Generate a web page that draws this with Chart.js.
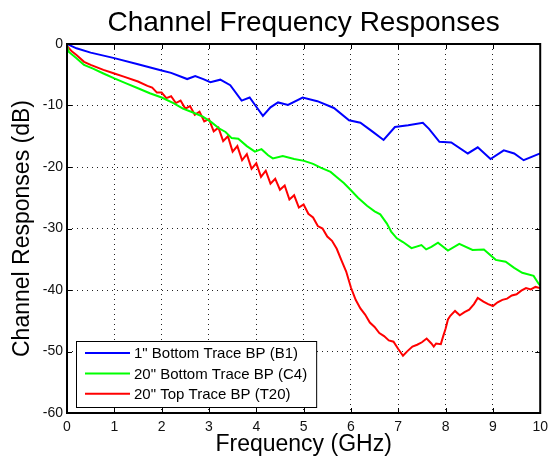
<!DOCTYPE html>
<html>
<head>
<meta charset="utf-8">
<script src="https://cdn.jsdelivr.net/npm/chart.js@4.4.1/dist/chart.umd.min.js"></script>
<style>
  html, body { margin: 0; padding: 0; background: #fff; }
  #wrap { width: 554px; height: 461px; }
</style>
</head>
<body>
<div id="wrap"><canvas id="respChart" width="554" height="461"></canvas></div>
<script>
// Channel frequency responses (GHz, dB)

const seriesLabels = ['1" Bottom Trace BP (B1)', '20" Bottom Trace BP (C4)', '20" Top Trace BP (T20)'];
const seriesColors = ['#0000ff', '#00ff00', '#ff0000'];

const xTicks = [0, 1, 2, 3, 4, 5, 6, 7, 8, 9, 10];
const yTicks = [-60, -50, -40, -30, -20, -10, 0];

const b1Freq = [0, 0.2, 0.5, 1.0, 1.5, 2.0, 2.2, 2.54, 2.71, 2.88, 3.03, 3.24, 3.45, 3.69, 3.86, 4.0, 4.14, 4.3, 4.46,
  4.67, 4.98, 5.29, 5.64, 5.96, 6.2, 6.45, 6.69, 6.93, 7.21, 7.52, 7.65, 7.87, 8.12, 8.47, 8.68, 8.95, 9.23, 9.45,
  9.65, 9.96, 10.0];
const b1Db = [0, -0.7, -1.4, -2.3, -3.3, -4.3, -4.7, -5.7, -5.2, -5.7, -6.2, -5.8, -6.7, -9.2, -8.7, -10.2, -11.7, -10.3, -9.5,
  -9.9, -8.7, -9.3, -10.4, -12.4, -12.8, -14.2, -15.6, -13.5, -13.2, -12.8, -13.8, -15.9, -16.0, -17.8, -16.8, -18.7, -17.3, -17.8,
  -18.9, -17.9, -17.8];

const c4Freq = [0, 0.04, 0.2, 0.36, 0.55, 0.77, 1.0, 1.25, 1.5, 1.75, 2.0, 2.25, 2.45, 2.65, 2.87, 3.05, 3.21, 3.35, 3.48,
  3.62, 3.8, 3.97, 4.11, 4.25, 4.35, 4.56, 4.8, 5.01, 5.2, 5.36, 5.57, 5.71, 5.85, 5.99, 6.15, 6.34, 6.5, 6.62, 6.76,
  6.85, 6.97, 7.1, 7.28, 7.49, 7.59, 7.7, 7.84, 8.05, 8.29, 8.57, 8.81, 9.06, 9.27, 9.45, 9.62, 9.86, 9.96, 10.0];
const c4Db = [-0.3, -1.3, -2.3, -3.4, -4.0, -4.8, -5.6, -6.4, -7.2, -8.0, -8.7, -9.6, -10.5, -11.1, -11.8, -12.7, -13.7, -14.3, -15.3,
  -15.4, -16.6, -17.5, -17.1, -18.1, -18.6, -18.2, -18.7, -19.0, -19.5, -20.1, -20.8, -21.7, -22.6, -23.7, -25.0, -26.3, -27.2, -27.7, -29.2,
  -30.5, -31.6, -32.2, -33.2, -32.7, -33.4, -33.0, -32.3, -33.6, -32.5, -33.5, -33.4, -35.1, -35.4, -36.4, -37.2, -37.7, -38.9, -39.3];

const t20Freq = [0, 0.1, 0.2, 0.36, 0.5, 0.77, 1.0, 1.2, 1.5, 1.7,
  1.8, 1.9, 2.0, 2.1, 2.2, 2.3, 2.4, 2.5, 2.6, 2.7, 2.8, 2.9, 3.0, 3.1, 3.2, 3.3, 3.4, 3.5, 3.6, 3.7, 3.8, 3.9,
  4.0, 4.1, 4.2, 4.3, 4.4, 4.5, 4.6, 4.7, 4.8, 4.9, 5.0, 5.1, 5.2, 5.3, 5.4, 5.5, 5.6, 5.7, 5.8, 5.9,
  6.0, 6.1, 6.2, 6.3, 6.4, 6.5, 6.6, 6.7, 6.8, 6.9, 7.0, 7.1, 7.2, 7.3, 7.4, 7.5, 7.6, 7.7, 7.75, 7.8, 7.9, 7.95,
  8.0, 8.05, 8.1, 8.2, 8.3, 8.4, 8.5, 8.6, 8.68, 8.8, 8.9, 9.0, 9.1, 9.2, 9.3, 9.4, 9.5, 9.6, 9.7, 9.8, 9.9, 10.0];
const t20Db = [-0.3, -1.2, -1.8, -2.9, -3.4, -4.2, -4.8, -5.3, -6.1, -6.8,
  -7.1, -7.9, -7.9, -8.8, -8.5, -9.6, -9.2, -10.5, -10.1, -11.5, -11.0, -12.6, -12.2, -14.2, -13.6, -15.8, -15.0, -17.5, -16.6, -18.9, -17.9, -20.3,
  -19.4, -21.6, -20.6, -22.7, -21.9, -23.7, -23.0, -25.3, -24.6, -26.6, -26.1, -27.6, -28.2, -29.6, -30.0, -31.3, -32.0, -33.3, -35.2, -37.0,
  -39.6, -41.6, -43.0, -44.0, -45.3, -46.0, -47.0, -47.5, -48.2, -48.4, -49.6, -50.7, -49.9, -49.2, -48.9, -48.5, -47.9, -48.7, -49.2, -48.7, -48.8, -47.5,
  -46.3, -44.8, -44.2, -43.4, -44.1, -43.6, -43.2, -42.3, -41.3, -41.9, -42.3, -42.6, -42.0, -41.6, -41.4, -40.9, -40.7, -40.1, -39.7, -39.9, -39.5, -39.7];

const FONT = '"Liberation Sans", Arial, sans-serif';

function toPoints(xs, ys) {
  return xs.map((x, i) => ({ x: x, y: ys[i] }));
}

// MATLAB style box: frame, inward ticks on all four sides
const plotFrame = {
  id: 'plotFrame',
  afterDraw(chart) {
    const { ctx, chartArea: a, scales } = chart;
    const tl = 5;
    ctx.save();
    ctx.strokeStyle = '#000';
    ctx.lineWidth = 1;
    ctx.beginPath();
    xTicks.forEach(v => {
      const px = Math.round(scales.x.getPixelForValue(v)) + 0.5;
      ctx.moveTo(px, a.bottom); ctx.lineTo(px, a.bottom - tl);
      ctx.moveTo(px, a.top); ctx.lineTo(px, a.top + tl);
    });
    yTicks.forEach(v => {
      const py = Math.round(scales.y.getPixelForValue(v)) + 0.5;
      ctx.moveTo(a.left, py); ctx.lineTo(a.left + tl, py);
      ctx.moveTo(a.right, py); ctx.lineTo(a.right - tl, py);
    });
    ctx.stroke();
    ctx.lineWidth = 2;
    ctx.strokeRect(a.left, a.top, a.right - a.left, a.bottom - a.top);
    ctx.restore();
  }
};

// boxed legend in the lower left corner of the axes
const boxLegend = {
  id: 'boxLegend',
  afterDatasetsDraw(chart) {
    const { ctx, chartArea: a } = chart;
    const ds = chart.data.datasets;
    ctx.save();
    ctx.font = '15px ' + FONT;
    const textW = Math.max(...ds.map(d => ctx.measureText(d.label).width));
    const w = 9 + 45 + 4 + textW + 9;
    const h = 66;
    const x0 = a.left + 9;
    const y0 = a.bottom - 6 - h;
    ctx.fillStyle = '#fff';
    ctx.fillRect(x0, y0, w, h);
    ctx.strokeStyle = '#000';
    ctx.lineWidth = 1;
    ctx.strokeRect(x0 + 0.5, y0 + 0.5, w, h);
    ds.forEach((d, i) => {
      const y = y0 + 12 + i * 20.4;
      ctx.strokeStyle = d.borderColor;
      ctx.lineWidth = 2;
      ctx.beginPath();
      ctx.moveTo(x0 + 9, y);
      ctx.lineTo(x0 + 54, y);
      ctx.stroke();
      ctx.fillStyle = '#000';
      ctx.textBaseline = 'middle';
      ctx.fillText(d.label, x0 + 58, y + 1);
    });
    ctx.restore();
  }
};

const ctx = document.getElementById('respChart').getContext('2d');

const chart = new Chart(ctx, {
  type: 'line',
  data: {
    datasets: [
      { label: seriesLabels[0], data: toPoints(b1Freq, b1Db), borderColor: seriesColors[0] },
      { label: seriesLabels[1], data: toPoints(c4Freq, c4Db), borderColor: seriesColors[1] },
      { label: seriesLabels[2], data: toPoints(t20Freq, t20Db), borderColor: seriesColors[2] }
    ]
  },
  options: {
    responsive: false,
    animation: false,
    layout: { padding: { left: 0, right: 9, top: 0, bottom: 0 } },
    elements: {
      line: { borderWidth: 2, tension: 0, fill: false },
      point: { radius: 0 }
    },
    plugins: {
      legend: { display: false },
      tooltip: { enabled: false },
      title: {
        display: true,
        fullSize: false,
        text: 'Channel Frequency Responses',
        color: '#000',
        font: { family: FONT, size: 28, weight: 'normal' },
        padding: { top: 6, bottom: 4.4 }
      }
    },
    scales: {
      x: {
        type: 'linear',
        min: 0,
        max: 10,
        afterBuildTicks: s => { s.ticks = xTicks.map(v => ({ value: v })); },
        afterFit: s => { s.height = 48; },
        ticks: { color: '#111', padding: 6, maxRotation: 0, font: { family: FONT, size: 14 } },
        grid: { color: '#222', lineWidth: 1, drawTicks: false },
        border: { display: false, dash: [1, 4] },
        title: {
          display: true,
          text: 'Frequency (GHz)',
          color: '#000',
          font: { family: FONT, size: 23 },
          padding: { top: 0, bottom: 3 }
        }
      },
      y: {
        type: 'linear',
        min: -60,
        max: 0,
        afterBuildTicks: s => { s.ticks = yTicks.map(v => ({ value: v })); },
        afterFit: s => { s.width = 67; },
        ticks: { color: '#111', padding: 4, font: { family: FONT, size: 14 } },
        grid: { color: '#222', lineWidth: 1, drawTicks: false },
        border: { display: false, dash: [1, 4] },
        title: {
          display: true,
          text: 'Channel Responses (dB)',
          color: '#000',
          font: { family: FONT, size: 23 },
          padding: { top: 9, bottom: 0 }
        }
      }
    }
  },
  plugins: [boxLegend, plotFrame]
});
</script>
</body>
</html>
